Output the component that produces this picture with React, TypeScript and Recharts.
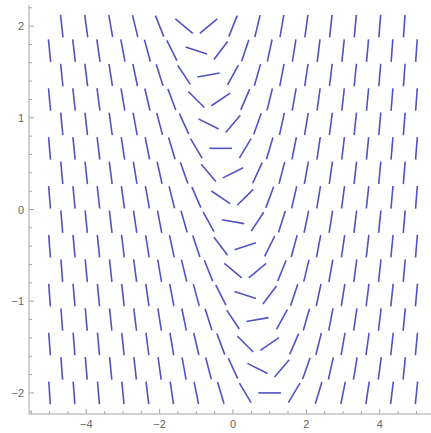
import React from "react";
import { ScatterChart, Scatter, XAxis, YAxis } from "recharts";

// Grid rows (y values, top to bottom)
const rowY = [2, 1.733, 1.467, 1.2, 0.933, 0.667, 0.4, 0.133, -0.133, -0.4, -0.667, -0.933, -1.2, -1.467, -1.733, -2];
// Column x positions: even rows and odd rows are staggered
const evenX = [-4.667, -4, -3.333, -2.667, -2, -1.333, -0.667, 0, 0.667, 1.333, 2, 2.667, 3.333, 4, 4.667];
const oddX = [-5, -4.333, -3.667, -3, -2.333, -1.667, -1, -0.333, 0.333, 1, 1.667, 2.333, 3, 3.667, 4.333, 5];

// Slope (dy/dx) read at each grid point, one list per row
const slopeRows: number[][] = [
  [-3.67, -3.0, -2.33, -1.67, -1.0, -0.33, 0.33, 1.0, 1.67, 2.33, 3.0, 3.67, 4.33, 5.0, 5.67],
  [-4.13, -3.47, -2.8, -2.13, -1.47, -0.8, -0.13, 0.53, 1.2, 1.87, 2.53, 3.2, 3.87, 4.53, 5.2, 5.87],
  [-3.93, -3.27, -2.6, -1.93, -1.27, -0.6, 0.07, 0.73, 1.4, 2.07, 2.73, 3.4, 4.07, 4.73, 5.4],
  [-4.4, -3.73, -3.07, -2.4, -1.73, -1.07, -0.4, 0.27, 0.93, 1.6, 2.27, 2.93, 3.6, 4.27, 4.93, 5.6],
  [-4.2, -3.53, -2.87, -2.2, -1.53, -0.87, -0.2, 0.47, 1.13, 1.8, 2.47, 3.13, 3.8, 4.47, 5.13],
  [-4.67, -4.0, -3.33, -2.67, -2.0, -1.33, -0.67, 0.0, 0.67, 1.33, 2.0, 2.67, 3.33, 4.0, 4.67, 5.33],
  [-4.47, -3.8, -3.13, -2.47, -1.8, -1.13, -0.47, 0.2, 0.87, 1.53, 2.2, 2.87, 3.53, 4.2, 4.87],
  [-4.93, -4.27, -3.6, -2.93, -2.27, -1.6, -0.93, -0.27, 0.4, 1.07, 1.73, 2.4, 3.07, 3.73, 4.4, 5.07],
  [-4.73, -4.07, -3.4, -2.73, -2.07, -1.4, -0.73, -0.07, 0.6, 1.27, 1.93, 2.6, 3.27, 3.93, 4.6],
  [-5.2, -4.53, -3.87, -3.2, -2.53, -1.87, -1.2, -0.53, 0.13, 0.8, 1.47, 2.13, 2.8, 3.47, 4.13, 4.8],
  [-5.0, -4.33, -3.67, -3.0, -2.33, -1.67, -1.0, -0.33, 0.33, 1.0, 1.67, 2.33, 3.0, 3.67, 4.33],
  [-5.47, -4.8, -4.13, -3.47, -2.8, -2.13, -1.47, -0.8, -0.13, 0.53, 1.2, 1.87, 2.53, 3.2, 3.87, 4.53],
  [-5.27, -4.6, -3.93, -3.27, -2.6, -1.93, -1.27, -0.6, 0.07, 0.73, 1.4, 2.07, 2.73, 3.4, 4.07],
  [-5.73, -5.07, -4.4, -3.73, -3.07, -2.4, -1.73, -1.07, -0.4, 0.27, 0.93, 1.6, 2.27, 2.93, 3.6, 4.27],
  [-5.53, -4.87, -4.2, -3.53, -2.87, -2.2, -1.53, -0.87, -0.2, 0.47, 1.13, 1.8, 2.47, 3.13, 3.8],
  [-6.0, -5.33, -4.67, -4.0, -3.33, -2.67, -2.0, -1.33, -0.67, 0.0, 0.67, 1.33, 2.0, 2.67, 3.33, 4.0],
];

// Axis ticks
const xTicks = [-5.5, -5, -4.5, -4, -3.5, -3, -2.5, -2, -1.5, -1, -0.5, 0, 0.5, 1, 1.5, 2, 2.5, 3, 3.5, 4, 4.5, 5, 5.5];
const xLabels = [-4, -2, 0, 2, 4];
const yTicks = [-2.2, -2, -1.8, -1.6, -1.4, -1.2, -1, -0.8, -0.6, -0.4, -0.2, 0, 0.2, 0.4, 0.6, 0.8, 1, 1.2, 1.4, 1.6, 1.8, 2, 2.2];
const yLabels = [-2, -1, 0, 1, 2];

const X_DOMAIN: [number, number] = [-5.56, 5.56];
const Y_DOMAIN: [number, number] = [-2.23, 2.23];

const CHART_W = 445;
const CHART_H = 433;
const MARGIN = { top: 5, right: 8, bottom: 0, left: 0 };
const Y_AXIS_W = 29;
const X_AXIS_H = 19;

const plotW = CHART_W - MARGIN.left - MARGIN.right - Y_AXIS_W;
const plotH = CHART_H - MARGIN.top - MARGIN.bottom - X_AXIS_H;
const pxPerX = plotW / (X_DOMAIN[1] - X_DOMAIN[0]);
const pxPerY = plotH / (Y_DOMAIN[1] - Y_DOMAIN[0]);

const SEG_HALF = 11.3;
const SEG_COLOR = "#5252c4";
const AXIS_COLOR = "#a6a6a6";
const LABEL_COLOR = "#666666";

const points = rowY.flatMap((y, k) => {
  const xs = k % 2 === 0 ? evenX : oddX;
  return xs.map((x, j) => ({ x, y, s: slopeRows[k][j] }));
});

const isLabel = (arr: number[], v: number) => arr.some((a) => Math.abs(a - v) < 1e-6);

const Segment = (props: any) => {
  const { cx, cy, payload } = props;
  if (cx == null || cy == null) return null;
  const sy = payload.s * (pxPerY / pxPerX);
  const len = Math.sqrt(1 + sy * sy);
  const dx = (SEG_HALF * 1) / len;
  const dy = (SEG_HALF * -sy) / len;
  return (
    <line
      x1={cx - dx}
      y1={cy - dy}
      x2={cx + dx}
      y2={cy + dy}
      stroke={SEG_COLOR}
      strokeWidth={1.6}
    />
  );
};

const BottomTick = (props: any) => {
  const { x, y, payload } = props;
  const major = isLabel(xLabels, payload.value);
  return (
    <g>
      <line x1={x} y1={y} x2={x} y2={y - (major ? 5 : 3)} stroke={AXIS_COLOR} strokeWidth={1} />
      {major && (
        <text x={x} y={y + 14} textAnchor="middle" fill={LABEL_COLOR} fontSize={11} fontFamily="Liberation Sans, Arial, sans-serif">
          {payload.value < 0 ? `\u2212${Math.abs(payload.value)}` : payload.value}
        </text>
      )}
    </g>
  );
};

const TopTick = (props: any) => {
  const { x, y, payload } = props;
  const major = isLabel(xLabels, payload.value);
  return <line x1={x} y1={y} x2={x} y2={y + (major ? 5 : 3)} stroke={AXIS_COLOR} strokeWidth={1} />;
};

const LeftTick = (props: any) => {
  const { x, y, payload } = props;
  const major = isLabel(yLabels, payload.value);
  return (
    <g>
      <line x1={x} y1={y} x2={x + (major ? 5 : 3)} y2={y} stroke={AXIS_COLOR} strokeWidth={1} />
      {major && (
        <text x={x - 5} y={y + 4} textAnchor="end" fill={LABEL_COLOR} fontSize={11} fontFamily="Liberation Sans, Arial, sans-serif">
          {payload.value < 0 ? `\u2212${Math.abs(payload.value)}` : payload.value}
        </text>
      )}
    </g>
  );
};

export default function App() {
  return (
    <div style={{ position: "absolute", left: 0, top: 0, width: 431, height: 433, overflow: "hidden", background: "#fff" }}>
      <ScatterChart width={CHART_W} height={CHART_H} margin={MARGIN}>
        <XAxis
          xAxisId="b"
          dataKey="x"
          type="number"
          domain={X_DOMAIN}
          allowDataOverflow
          ticks={xTicks}
          interval={0}
          tickSize={0}
          tickMargin={0}
          tickLine={false}
          height={X_AXIS_H}
          stroke={AXIS_COLOR}
          tick={<BottomTick />}
        />
        <XAxis
          xAxisId="t"
          orientation="top"
          dataKey="x"
          type="number"
          domain={X_DOMAIN}
          allowDataOverflow
          ticks={xTicks}
          interval={0}
          tickSize={0}
          tickMargin={0}
          tickLine={false}
          height={0}
          stroke={AXIS_COLOR}
          tick={<TopTick />}
        />
        <YAxis
          yAxisId="l"
          dataKey="y"
          type="number"
          domain={Y_DOMAIN}
          allowDataOverflow
          ticks={yTicks}
          interval={0}
          tickSize={0}
          tickMargin={0}
          tickLine={false}
          width={Y_AXIS_W}
          stroke={AXIS_COLOR}
          tick={<LeftTick />}
        />
        <Scatter
          data={points}
          xAxisId="b"
          yAxisId="l"
          shape={<Segment />}
          isAnimationActive={false}
        />
      </ScatterChart>
    </div>
  );
}
